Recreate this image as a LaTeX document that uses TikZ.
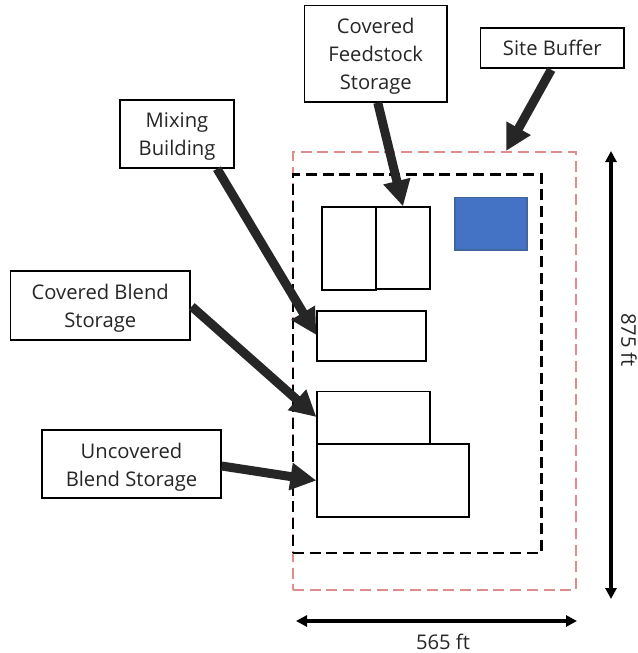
\documentclass[tikz,border=0pt]{standalone}
\usepackage{fontspec}
\setmainfont{Open Sans}
\usetikzlibrary{arrows.meta,calc}
\tikzset{
  x=1pt,y=-1pt,
  label box/.style={draw=black,line width=1.4pt,fill=white,align=center,inner sep=0pt,font=\fontsize{20.2}{28}\selectfont,text=black!85},
  plot box/.style={draw=black,line width=1.2pt,fill=white,inner sep=0pt},
  water/.style={draw=waterline,line width=1.2pt,fill=tankblue,inner sep=0pt},
  zone/.style={dash pattern=on 11pt off 5.7pt,inner sep=0pt},
  callout/.style={draw=calloutgrey,line width=9pt,-{Triangle[length=26pt,width=26pt]}},
  dim/.style={draw=black,line width=3.2pt,{Triangle[length=11pt,width=11pt]}-{Triangle[length=11pt,width=11pt]}},
  dim text/.style={font=\fontsize{20.2}{25}\selectfont,text=black!85,inner sep=0pt}
}
\definecolor{tankblue}{HTML}{4472C4}
\definecolor{waterline}{HTML}{41659F}
\definecolor{calloutgrey}{HTML}{262626}
\definecolor{bufferred}{HTML}{E08C8C}
\newcommand{\stacked}[2]{\raisebox{#1}[0pt][0pt]{\shortstack[c]{#2}}}
\begin{document}
\begin{tikzpicture}
\useasboundingbox (0,0) rectangle (637,653);
% site zones
\node[zone,line width=2.6pt,draw=bufferred,minimum width=283pt,minimum height=438pt] (buffer) at (434.5,371) {};
\node[zone,line width=2.05pt,draw=black,minimum width=248.5pt,minimum height=378.5pt] (yard) at (417.25,363.75) {};
% plot rectangles
\node[plot box,minimum width=54pt,minimum height=83pt] (feedA) at (349,248.5) {};
\node[plot box,minimum width=54pt,minimum height=82pt] (feedB) at (403,248) {};
\node[water,minimum width=72pt,minimum height=52.5pt] (tank) at (491,223.75) {};
\node[plot box,minimum width=109pt,minimum height=50pt] (mixing) at (371.5,336) {};
\node[plot box,minimum width=113pt,minimum height=53pt] (blend) at (373.5,418) {};
\node[plot box,minimum width=152pt,minimum height=73pt] (open) at (393,480.5) {};
% label boxes
\node[label box,minimum width=142.5pt,minimum height=96.5pt] (lfeed) at (375.75,53.75) {\stacked{-36pt}{\strut Covered\\[-3pt]\strut Feedstock\\[-3pt]\strut Storage}};
\node[label box,minimum width=143.5pt,minimum height=40pt] (lsite) at (552.25,48) {Site Buffer};
\node[label box,minimum width=114pt,minimum height=68pt] (lmix) at (177,134) {\stacked{-21pt}{\strut Mixing\\[-3pt]\strut Building}};
\node[label box,minimum width=179.5pt,minimum height=69pt] (lblend) at (100.25,305.5) {\stacked{-21.5pt}{\strut Covered Blend\\[-3pt]\strut Storage}};
\node[label box,minimum width=179pt,minimum height=68pt] (lopen) at (131.5,464) {\stacked{-22pt}{\strut Uncovered\\[-3pt]\strut Blend Storage}};
% callouts
\coordinate (bufferTarget) at (506,151);
\draw[callout] ($(lfeed.south)+(2,0)$) -- (feedB.north);
\draw[callout] ($(lsite.south)+(-1,1)$) -- (bufferTarget);
\draw[callout] ($(lmix.south)+(40,0)$) -- ($(mixing.west)+(0,-1)$);
\draw[callout] ($(lblend.east)+(1,1)$) -- ($(blend.west)+(0,-1)$);
\draw[callout] ($(lopen.east)+(0,2)$) -- (open.west);
% dimensions
\coordinate (hA) at (296,621);
\coordinate (hB) at (577,621);
\coordinate (vA) at (611,151);
\coordinate (vB) at (611,599);
\draw[dim] (hA) -- (hB);
\draw[dim] (vA) -- (vB);
\node[dim text] (width) at (443,642) {565 ft};
\node[dim text,rotate=-90] (height) at (629,340) {875 ft};
\end{tikzpicture}
\end{document}
